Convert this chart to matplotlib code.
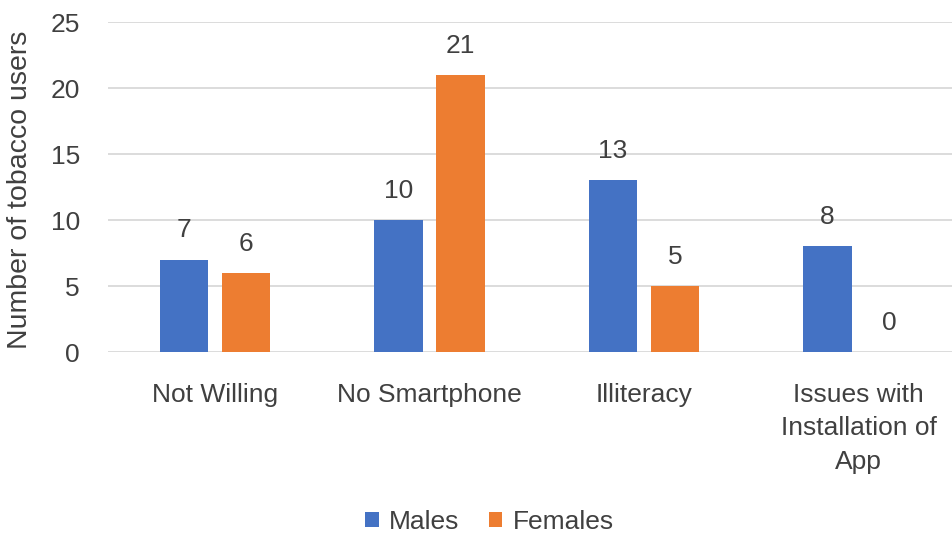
import matplotlib
matplotlib.use("Agg")
import matplotlib.pyplot as plt
import numpy as np

categories = ["Not Willing", "No Smartphone", "Illiteracy", "Issues with\nInstallation of\nApp"]
males = [7, 10, 13, 8]
females = [6, 21, 5, 0]
series_names = ["Males", "Females"]
yticks = [0, 5, 10, 15, 20, 25]

plt.rcParams['font.family'] = ['Liberation Sans', 'DejaVu Sans']
TXT = '#404040'
BLUE = '#4472C4'
ORANGE = '#ED7D31'
FS = 19

W, H = 953, 536
fig = plt.figure(figsize=(W/100, H/100), dpi=100)
left_px, right_px, top_px, bot_px = 107.75, 953, 22, 352
ax = fig.add_axes([left_px/W, 1 - bot_px/H, (right_px-left_px)/W, (bot_px-top_px)/H])

x = np.arange(len(categories))
bw = 0.224
off = 0.1445
b1 = ax.bar(x - off, males, bw, color=BLUE, label=series_names[0], zorder=3)
b2 = ax.bar(x + off, females, bw, color=ORANGE, label=series_names[1], zorder=3)

for bars, vals in ((b1, males), (b2, females)):
    for r, v in zip(bars, vals):
        ax.annotate(str(v), (r.get_x() + r.get_width()/2, v), xytext=(0, 21),
                    textcoords='offset points', ha='center', va='center',
                    fontsize=FS, color=TXT)

ax.set_xlim(-0.5, (953 - 215) / 214.5)
ax.set_ylim(0, 25)
ax.set_yticks(yticks)
ax.set_xticks(x)
ax.set_xticklabels(categories, linespacing=1.5)
ax.tick_params(axis='both', length=0, labelsize=FS, colors=TXT)
ax.tick_params(axis='y', pad=20)
ax.tick_params(axis='x', pad=22)
ax.yaxis.grid(True, color='#D9D9D9', linewidth=1.3, zorder=0)
for s in ax.spines.values():
    s.set_visible(False)
ax.set_ylabel("Number of tobacco users", fontsize=20.5, color=TXT)
ax.yaxis.set_label_coords((33 - left_px) / (right_px - left_px), 0.49)

fig.legend(loc='center', bbox_to_anchor=(489.5/W, 1 - 522/H), ncol=2, frameon=False,
           fontsize=FS, handlelength=0.5, handleheight=0.5, handletextpad=0.4,
           columnspacing=1.1, labelcolor=TXT)

fig.savefig("out.png", dpi=100)
